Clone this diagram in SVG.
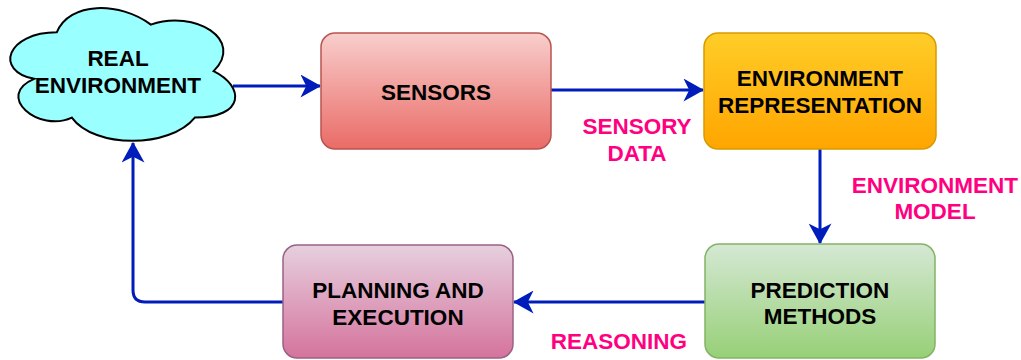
<svg xmlns="http://www.w3.org/2000/svg" width="1021" height="360" viewBox="0 0 1021 360">
<style>
.lbl{font-family:"Liberation Sans",Arial,sans-serif;font-weight:bold;font-size:22.5px;text-anchor:middle;fill:#000}
.edge{font-family:"Liberation Sans",Arial,sans-serif;font-weight:bold;font-size:22.5px;text-anchor:middle;fill:#FF0080}
.conn{fill:none;stroke:#001DBC;stroke-width:3;marker-end:url(#arr)}
</style>
<defs>
<marker id="arr" markerUnits="userSpaceOnUse" markerWidth="21" markerHeight="23" viewBox="0 0 18 20" refX="17" refY="10" orient="auto">
<path d="M0,0 L18,10 L0,20 L5,10 Z" fill="#001DBC"/>
</marker>
<linearGradient id="gSens" x1="0" y1="0" x2="0" y2="1"><stop offset="0" stop-color="#f8cecc"/><stop offset="1" stop-color="#ea6b66"/></linearGradient>
<linearGradient id="gEnv" x1="0" y1="0" x2="0" y2="1"><stop offset="0" stop-color="#ffcd28"/><stop offset="1" stop-color="#ffa500"/></linearGradient>
<linearGradient id="gPred" x1="0" y1="0" x2="0" y2="1"><stop offset="0" stop-color="#d5e8d4"/><stop offset="1" stop-color="#97d077"/></linearGradient>
<linearGradient id="gPlan" x1="0" y1="0" x2="0" y2="1"><stop offset="0" stop-color="#e6d0de"/><stop offset="1" stop-color="#d5739d"/></linearGradient>
</defs>
<rect width="1021" height="360" fill="#ffffff"/>
<g id="connectors">
<path class="conn" d="M233,86 L320,86"/>
<path class="conn" d="M551,90 L703,90"/>
<path class="conn" d="M820,149 L820,243"/>
<path class="conn" d="M705,302 L514,302"/>
<path class="conn" d="M283,302 L145,302 Q133,302 133,290 L133,143"/>
</g>
<g id="real-environment">
<path d="M56.75,32.35 C6.55,32.35 -6,71.1 34.16,78.85 C-6,95.9 39.18,133.1 71.81,117.6 C94.4,148.6 169.7,148.6 194.8,117.6 C245,117.6 245,86.6 213.6,71.1 C245,40.1 194.8,9.1 150.9,24.6 C119.5,1.35 69.3,1.35 56.75,32.35 Z" fill="#99ffff" stroke="#000" stroke-width="2"/>
<text class="lbl" x="118" y="66">REAL</text>
<text class="lbl" x="118" y="93">ENVIRONMENT</text>
</g>
<g id="sensors">
<rect x="321" y="33" width="230" height="116" rx="14" fill="url(#gSens)" stroke="#b85450" stroke-width="1.5"/>
<text class="lbl" x="436" y="99.5">SENSORS</text>
</g>
<g id="environment-representation">
<rect x="704" y="33" width="232" height="116" rx="14" fill="url(#gEnv)" stroke="#d79b00" stroke-width="1.5"/>
<text class="lbl" x="820" y="86">ENVIRONMENT</text>
<text class="lbl" x="820" y="113">REPRESENTATION</text>
</g>
<g id="prediction-methods">
<rect x="705" y="244" width="230" height="114" rx="14" fill="url(#gPred)" stroke="#82b366" stroke-width="1.5"/>
<text class="lbl" x="820" y="298">PREDICTION</text>
<text class="lbl" x="820" y="323.5">METHODS</text>
</g>
<g id="planning-execution">
<rect x="283" y="245" width="230" height="113" rx="14" fill="url(#gPlan)" stroke="#996185" stroke-width="1.5"/>
<text class="lbl" x="398" y="298">PLANNING AND</text>
<text class="lbl" x="398" y="324.5">EXECUTION</text>
</g>
<g id="edge-labels">
<text class="edge" x="637" y="134">SENSORY</text>
<text class="edge" x="637" y="161">DATA</text>
<text class="edge" x="935" y="192.5">ENVIRONMENT</text>
<text class="edge" x="935" y="218.5">MODEL</text>
<text class="edge" x="619" y="348.5">REASONING</text>
</g>
</svg>
